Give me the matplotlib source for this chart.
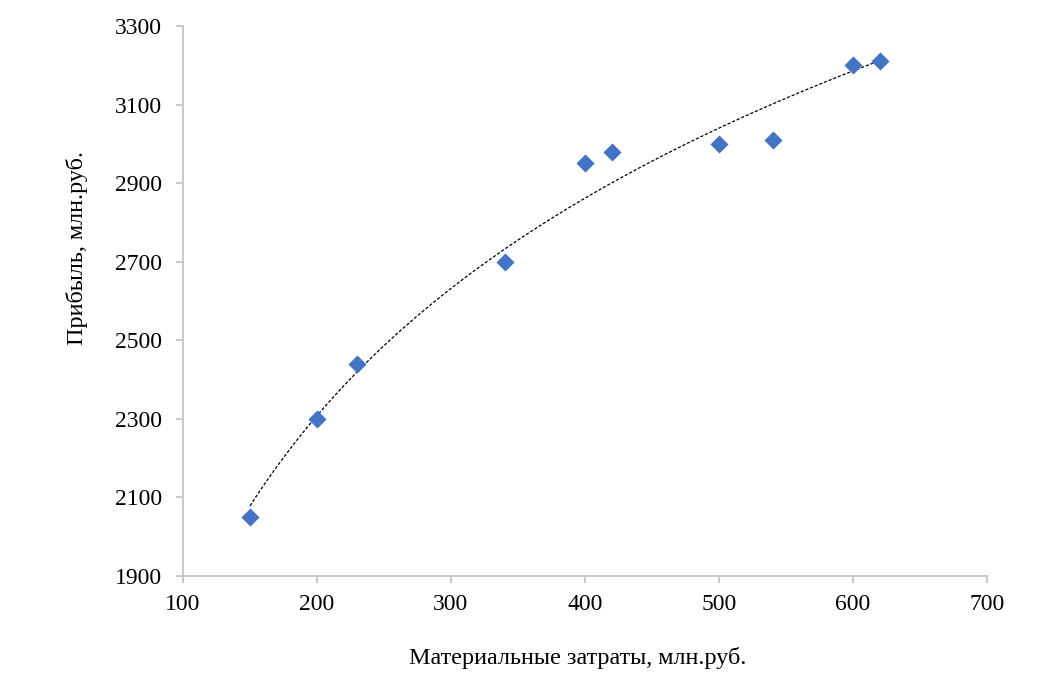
import numpy as np
import matplotlib
matplotlib.use("Agg")
import matplotlib.pyplot as plt

plt.rcParams['font.family'] = ['Liberation Serif', 'DejaVu Serif']

# данные
costs = [150, 200, 230, 340, 400, 420, 500, 540, 600, 620]
profit = [2050, 2300, 2440, 2700, 2950, 2980, 3000, 3010, 3200, 3210]

xticks = [100, 200, 300, 400, 500, 600, 700]
yticks = [1900, 2100, 2300, 2500, 2700, 2900, 3100, 3300]

fig = plt.figure(figsize=(10.53, 6.82), dpi=100)
ax = fig.add_axes([0.1738, 0.1554, 0.9373 - 0.1738, 0.9619 - 0.1554])

# логарифмическая линия тренда
a, b = np.polyfit(np.log(costs), profit, 1)
xs = np.linspace(min(costs), max(costs), 200)
ax.plot(xs, a * np.log(xs) + b, color='black', linestyle=(0, (2.5, 1.5)), linewidth=0.9, zorder=2)

ax.scatter(costs, profit, marker='D', s=85, color='#4472C4', zorder=3, linewidths=0)

ax.set_xlim(100, 700)
ax.set_ylim(1900, 3300)
ax.set_xticks(xticks)
ax.set_yticks(yticks)

for s in ['top', 'right']:
    ax.spines[s].set_visible(False)
for s in ['left', 'bottom']:
    ax.spines[s].set_color('#bfbfbf')
    ax.spines[s].set_linewidth(1.2)
ax.tick_params(colors='#bfbfbf', labelcolor='black', length=5, width=1.2, labelsize=17, direction='out')
ax.tick_params(axis='x', pad=8)
ax.tick_params(axis='y', pad=10)

ax.set_xlabel('Материальные затраты, млн.руб.', fontsize=17.4, va='center')
ax.xaxis.set_label_coords(0.4907, -0.149)
ax.set_ylabel('Прибыль, млн.руб.', fontsize=17.4, va='center')
ax.yaxis.set_label_coords(-0.132, 0.596)

plt.savefig("out.png", dpi=100)
